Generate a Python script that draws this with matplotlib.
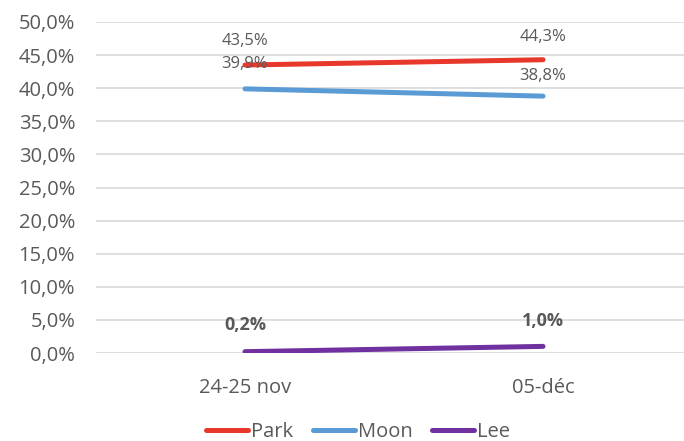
import matplotlib
matplotlib.use("Agg")
import matplotlib.pyplot as plt
from matplotlib.ticker import FuncFormatter, MultipleLocator

categories = ["24-25 nov", "05-déc"]
park = [43.5, 44.3]
moon = [39.9, 38.8]
lee = [0.2, 1.0]
series_names = ["Park", "Moon", "Lee"]
colors = ["#E8382B", "#5B9BD5", "#7030A0"]

plt.rcParams['font.family'] = ['Open Sans', 'DejaVu Sans']
txt = "#595959"

fig = plt.figure(figsize=(6.84, 4.41), dpi=100)
ax = fig.add_axes([96/684, 1 - 353/441, 596/684, (353 - 22)/441])
x = [0, 1]
for vals, name, c in zip([park, moon, lee], series_names, colors):
    ax.plot(x, vals, color=c, lw=3.6, label=name, solid_capstyle='round')

ax.set_xlim(-0.5, 1.5)
ax.set_ylim(0, 50)
ax.yaxis.set_major_locator(MultipleLocator(5))
ax.yaxis.set_major_formatter(FuncFormatter(lambda v, p: f"{v:.1f}%".replace(".", ",")))
ax.set_xticks(x)
ax.set_xticklabels(categories)
ax.tick_params(axis='both', length=0, labelsize=14.5, colors=txt)
ax.tick_params(axis='y', pad=15)
ax.tick_params(axis='x', pad=18)
ax.grid(axis='y', color="#D9D9D9", lw=1.2)
ax.set_axisbelow(True)
for s in ['top', 'right', 'left', 'bottom']:
    ax.spines[s].set_visible(False)

def fmt(v):
    return f"{v:.1f}%".replace(".", ",")

ax.text(0, park[0] + 3.6, fmt(park[0]), ha='center', va='center', fontsize=12, color=txt)
ax.text(1, park[1] + 3.4, fmt(park[1]), ha='center', va='center', fontsize=12, color=txt)
ax.text(0, moon[0] + 3.7, fmt(moon[0]), ha='center', va='center', fontsize=12, color=txt)
ax.text(1, moon[1] + 3.0, fmt(moon[1]), ha='center', va='center', fontsize=12, color=txt)
ax.text(0, lee[0] + 4.1, fmt(lee[0]), ha='center', va='center', fontsize=13, color=txt, fontweight='bold')
ax.text(1, lee[1] + 3.9, fmt(lee[1]), ha='center', va='center', fontsize=13, color=txt, fontweight='bold')

leg = fig.legend(loc='center', bbox_to_anchor=(358/684, 1 - 432/441), ncol=3, frameon=False,
                 fontsize=14.5, handlelength=2.1, handletextpad=0.15, columnspacing=0.95,
                 borderpad=0, borderaxespad=0)
for t in leg.get_texts():
    t.set_color(txt)

fig.savefig("out.png", dpi=100)
